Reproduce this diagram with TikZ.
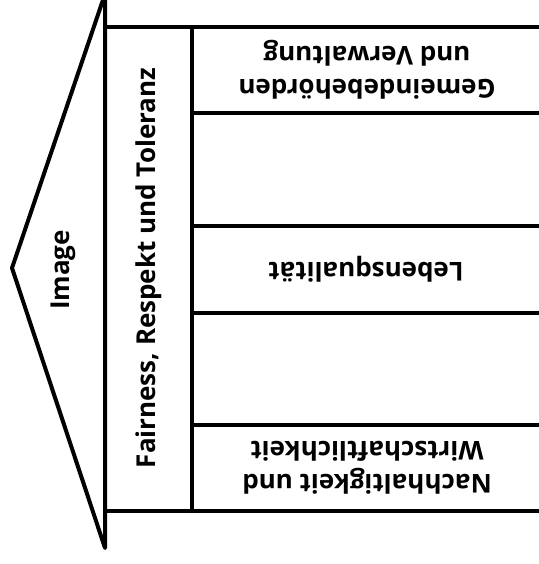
\documentclass[tikz,border=0pt]{standalone}
\usepackage{fontspec}
\setmainfont{Open Sans}
\begin{document}
\begin{tikzpicture}[x=1pt,y=-1pt,
  frame/.style={line width=4pt,line cap=round,line join=round},
  lbl/.style={font=\bfseries\fontsize{26}{33}\selectfont,align=center,inner sep=0pt}]
\useasboundingbox (0,0) rectangle (538,564);
% roof (triangle)
\draw[frame] (105,-6) -- (12,268) -- (105,548) -- cycle;
% floor lines
\draw[frame] (105,27) -- (545,27);
\draw[frame] (105,511) -- (545,511);
% pillar
\draw[frame] (192,27) -- (192,511);
% separators
\foreach \yy in {113,226,313,425} \draw[frame] (192,\yy) -- (545,\yy);
% texts
\node[lbl,rotate=90] (image) at (63,270) {Image};
\node[lbl,rotate=90] (fair) at (149,268) {Fairness, Respekt und Toleranz};
\node[lbl,rotate=180] (gem) at (367,70) {Gemeindebehörden\\und Verwaltung};
\node[lbl,rotate=180] (leb) at (366,269) {Lebensqualität};
\node[lbl,rotate=180] (nach) at (367,468) {Nachhaltigkeit und\\Wirtschaftlichkeit};
\end{tikzpicture}
\end{document}
